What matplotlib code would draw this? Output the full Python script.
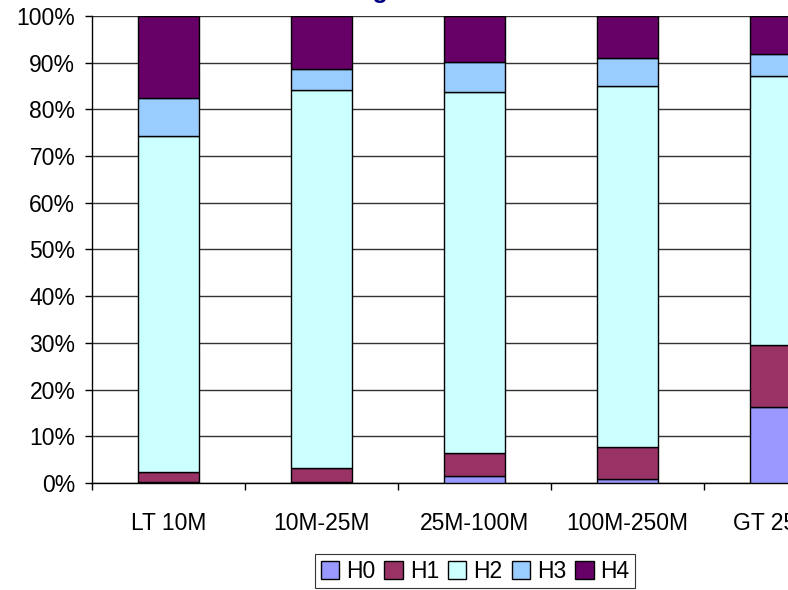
import numpy as np
import matplotlib.pyplot as plt
from matplotlib.patches import Patch

plt.rcParams['font.family'] = ['Liberation Sans', 'DejaVu Sans']

categories = ['LT 10M', '10M-25M', '25M-100M', '100M-250M', 'GT 250M']
series = ['H0', 'H1', 'H2', 'H3', 'H4']
H0 = [0.2, 0.3, 1.5, 0.8, 16.3]
H1 = [2.2, 2.9, 4.9, 6.8, 13.2]
H2 = [71.9, 81.0, 77.3, 77.4, 57.7]
H3 = [8.1, 4.4, 6.5, 5.9, 4.7]
H4 = [17.6, 11.4, 9.8, 9.1, 8.1]
colors = ['#9999FF', '#993366', '#CCFFFF', '#99CCFF', '#660066']

values = np.array([H0, H1, H2, H3, H4])
values = values / values.sum(axis=0) * 100

fig = plt.figure(figsize=(7.88, 5.90), dpi=100)
ax = fig.add_axes([0.1168, 0.1814, 0.9708, 0.7915])

x = np.arange(len(categories))
bottom = np.zeros(len(categories))
for i, name in enumerate(series):
    ax.bar(x, values[i], 0.4, bottom=bottom, color=colors[i],
           edgecolor='black', linewidth=1.0, label=name, zorder=3)
    bottom += values[i]

ax.set_xlim(-0.5, len(categories) - 0.5)
ax.set_ylim(0, 100)
ax.set_yticks(np.arange(0, 101, 10))
ax.set_yticklabels([f'{v}%' for v in range(0, 101, 10)])
ax.yaxis.grid(True, color='#333333', linewidth=1.0, zorder=0)

ax.set_xticks(x)
ax.set_xticklabels(categories)
ax.set_xticks(np.arange(-0.5, len(categories), 1), minor=True)
ax.tick_params(axis='x', which='major', length=0, pad=21, labelsize=16.5)
ax.tick_params(axis='x', which='minor', length=5, width=1, color='black')
ax.tick_params(axis='y', length=5, width=1, pad=7, labelsize=16.5)

for side in ['top', 'right']:
    ax.spines[side].set_visible(False)
ax.spines['left'].set_linewidth(1.0)
ax.spines['bottom'].set_linewidth(1.0)

# title is mostly cut off above the figure in the reference
fig.text(0.493, 0.9955, 'Housing', ha='right', va='bottom',
         fontsize=18, fontweight='bold', color='#000080')

handles = [Patch(facecolor=c, edgecolor='black', label=s) for c, s in zip(colors, series)]
leg = fig.legend(handles=handles, loc='upper center', bbox_to_anchor=(0.603, 0.061),
                 ncol=5, frameon=True, fancybox=False, fontsize=16.5,
                 handlelength=0.8, handleheight=0.8, handletextpad=0.3,
                 columnspacing=0.4, borderpad=0.25, borderaxespad=0)
leg.get_frame().set_edgecolor('black')
leg.get_frame().set_linewidth(0.8)

fig.savefig('out.png', dpi=100)
